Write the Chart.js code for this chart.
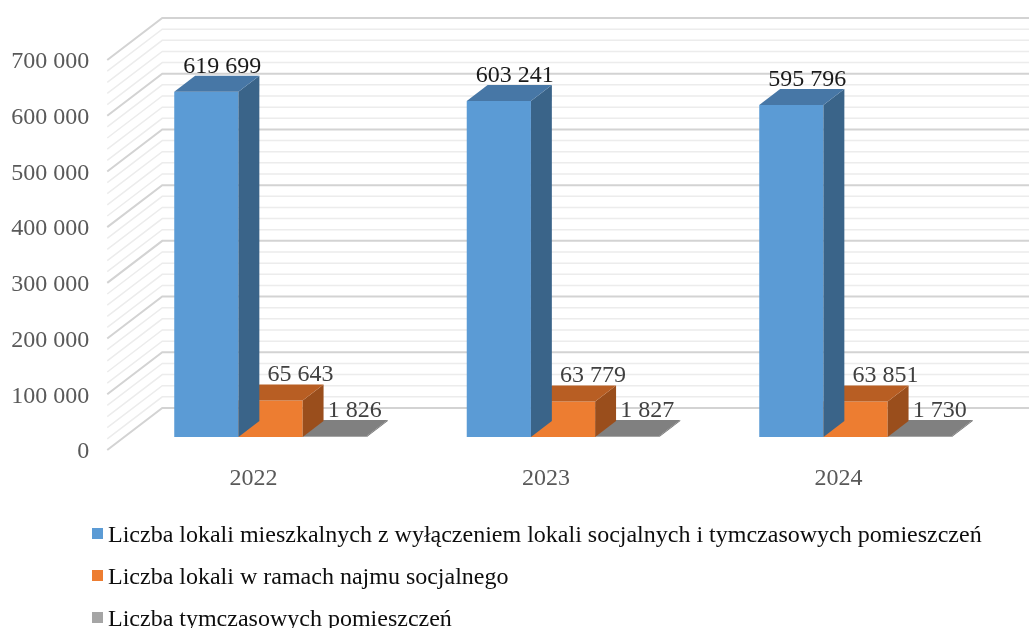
<!DOCTYPE html>
<html><head><meta charset="utf-8">
<script src="https://cdn.jsdelivr.net/npm/chart.js@4.4.1/dist/chart.umd.min.js"></script>
<style>html,body{margin:0;padding:0;background:#fff;} #wrap{width:1029px;height:628px;position:relative;}</style>
</head><body><div id="wrap"><canvas id="c" width="1029" height="628"></canvas></div>
<script>
// ---- data ----
const categories = ['2022', '2023', '2024'];
const seriesNames = [
  'Liczba lokali mieszkalnych z wyłączeniem lokali socjalnych i tymczasowych pomieszczeń',
  'Liczba lokali w ramach najmu socjalnego',
  'Liczba tymczasowych pomieszczeń'
];
const lokaleMieszkalne = [619699, 603241, 595796];
const najemSocjalny = [65643, 63779, 63851];
const tymczasowe = [1826, 1827, 1730];
const yMin = 0, yMax = 700000, yStep = 100000, yMinorDiv = 5;

// ---- style / geometry ----
const FONT = "'Liberation Serif', 'Times New Roman', serif";
const WALL_DX = 55, WALL_DY = -42;          // depth of the 3D walls
const BAR_FRONT = 0.31, BAR_BACK = 0.69;    // bar depth position as fraction of wall depth
const LABEL_DX = [16, 30, 20];
const LABEL_COLORS = ['#1a1a1a', '#404040', '#404040'];

function fmt(v) { return String(v).replace(/\B(?=(\d{3})+(?!\d))/g, ' '); }

const box3d = {
  id: 'box3d',
  beforeDatasetsDraw(chart) {
    const ctx = chart.ctx, ys = chart.scales.y, a = chart.chartArea;
    ctx.save();
    const minor = yStep / yMinorDiv;
    for (let v = yMin; v <= yMax + 1; v += minor) {
      const y = ys.getPixelForValue(v);
      const major = Math.abs(v % yStep) < 1e-6;
      ctx.strokeStyle = major ? '#d3d3d3' : '#ececec';
      ctx.lineWidth = major ? 2 : 1.5;
      ctx.beginPath();
      ctx.moveTo(a.left, y);
      ctx.lineTo(a.left + WALL_DX, y + WALL_DY);
      ctx.lineTo(a.right + WALL_DX, y + WALL_DY);
      ctx.stroke();
    }
    ctx.restore();
    ctx.save();
    ctx.translate(WALL_DX * BAR_FRONT, WALL_DY * BAR_FRONT);
  },
  afterDatasetDraw(chart, args) {
    const ctx = chart.ctx, ds = chart.data.datasets[args.index];
    const dx = WALL_DX * (BAR_BACK - BAR_FRONT), dy = WALL_DY * (BAR_BACK - BAR_FRONT);
    args.meta.data.forEach(el => {
      const p = el.getProps(['x', 'y', 'base', 'width'], true);
      const l = p.x - p.width / 2, r = p.x + p.width / 2;
      const top = Math.min(p.y, p.base), bot = Math.max(p.y, p.base);
      ctx.fillStyle = ds.sideColor;
      ctx.beginPath();
      ctx.moveTo(r, top); ctx.lineTo(r + dx, top + dy); ctx.lineTo(r + dx, bot + dy); ctx.lineTo(r, bot);
      ctx.closePath(); ctx.fill();
      ctx.fillStyle = ds.topColor;
      ctx.beginPath();
      ctx.moveTo(l, top); ctx.lineTo(r, top); ctx.lineTo(r + dx, top + dy); ctx.lineTo(l + dx, top + dy);
      ctx.closePath(); ctx.fill();
    });
  },
  afterDatasetsDraw(chart) {
    const ctx = chart.ctx;
    ctx.restore();
    const fx = WALL_DX * BAR_FRONT, fy = WALL_DY * BAR_FRONT;
    const by = WALL_DY * (BAR_BACK - BAR_FRONT);
    ctx.save();
    ctx.font = '24px ' + FONT;
    ctx.textAlign = 'center';
    ctx.textBaseline = 'alphabetic';
    chart.data.datasets.forEach((ds, i) => {
      chart.getDatasetMeta(i).data.forEach((el, j) => {
        const p = el.getProps(['x', 'y', 'base'], true);
        const top = Math.min(p.y, p.base);
        ctx.fillStyle = LABEL_COLORS[i];
        ctx.fillText(fmt(ds.data[j]), p.x + fx + LABEL_DX[i], top + fy + by - 3);
      });
    });
    ctx.restore();
  },
  afterDraw(chart) {
    const ctx = chart.ctx;
    ctx.save();
    ctx.font = '24px ' + FONT;
    ctx.textAlign = 'left';
    ctx.textBaseline = 'alphabetic';
    chart.data.datasets.forEach((ds, i) => {
      const base = 542 + i * 42;
      ctx.fillStyle = ds.legendColor;
      ctx.fillRect(92, base - 14, 11, 11);
      ctx.fillStyle = '#0d0d0d';
      ctx.fillText(ds.label, 108, base);
    });
    ctx.restore();
  }
};

new Chart(document.getElementById('c'), {
  type: 'bar',
  data: {
    labels: categories,
    datasets: [
      { label: seriesNames[0], data: lokaleMieszkalne, backgroundColor: '#5b9bd5', topColor: '#4777a6', sideColor: '#3a6489', legendColor: '#5b9bd5' },
      { label: seriesNames[1], data: najemSocjalny, backgroundColor: '#ed7d31', topColor: '#b85e23', sideColor: '#9a4e1c', legendColor: '#ed7d31' },
      { label: seriesNames[2], data: tymczasowe, backgroundColor: '#a5a5a5', topColor: '#808080', sideColor: '#6e6e6e', legendColor: '#a5a5a5' }
    ]
  },
  options: {
    responsive: false,
    devicePixelRatio: 1,
    animation: false,
    events: [],
    layout: { padding: { left: 0, top: 60, right: 44.25, bottom: 128 } },
    datasets: { bar: { categoryPercentage: 0.6585, barPercentage: 1, borderWidth: 0 } },
    plugins: { legend: { display: false }, tooltip: { enabled: false } },
    scales: {
      x: {
        grid: { display: false }, border: { display: false },
        ticks: { color: '#595959', font: { family: FONT, size: 24 }, padding: 6 },
        afterFit(s) { s.height = 50; }
      },
      y: {
        min: yMin, max: yMax,
        grid: { display: false }, border: { display: false },
        ticks: { stepSize: yStep, color: '#595959', font: { family: FONT, size: 24 }, padding: 10, labelOffset: 2, callback: v => fmt(v) },
        afterFit(s) { s.width = 107.25; }
      }
    }
  },
  plugins: [box3d]
});
</script></body></html>
